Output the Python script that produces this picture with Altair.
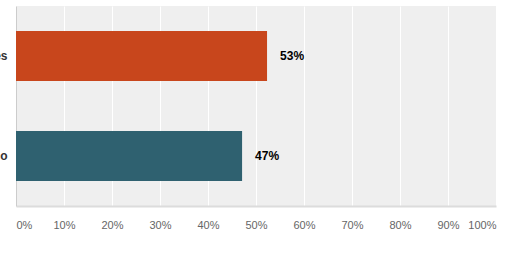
import altair as alt
import pandas as pd

categories = ["Yes", "No"]
pct_values = [52.3, 47.1]
pct_labels = ["53%", "47%"]
bar_colors = ["#C8461C", "#2F6170"]

df = pd.DataFrame({"cat": categories, "val": pct_values, "lab": pct_labels})

x_enc = alt.X(
    "val:Q",
    scale=alt.Scale(domain=[0, 100], nice=False, zero=True),
    axis=alt.Axis(
        values=list(range(0, 101, 10)),
        labelExpr="datum.value + '%'",
        title=None,
        grid=True,
        gridColor="#ffffff",
        gridWidth=1,
        ticks=False,
        domain=True,
        domainColor="#dcdcdc",
        domainWidth=2,
        labelColor="#666666",
        labelFontSize=11,
        labelFont="Liberation Sans",
        labelPadding=13,
        labelFlush=True,
    ),
)
y_enc = alt.Y(
    "cat:N",
    sort=categories,
    scale=alt.Scale(paddingInner=0.5, paddingOuter=0.25),
    axis=alt.Axis(
        title=None,
        ticks=False,
        grid=False,
        domain=True,
        domainColor="#cccccc",
        domainWidth=1,
        labelColor="#333333",
        labelFontSize=12,
        labelFontWeight="bold",
        labelFont="Liberation Sans",
        labelPadding=9,
    ),
)

bars = alt.Chart(df).mark_bar().encode(
    x=x_enc,
    y=y_enc,
    color=alt.Color("cat:N", scale=alt.Scale(domain=categories, range=bar_colors), legend=None),
)

text = alt.Chart(df).mark_text(
    align="left", baseline="middle", dx=13, fontSize=12, fontWeight="bold",
    font="Liberation Sans", color="#000000"
).encode(
    x="val:Q",
    y=alt.Y("cat:N", sort=categories),
    text="lab:N",
)

chart = (bars + text).properties(
    width=480,
    height=200,
    autosize=alt.AutoSizeParams(type="none"),
    padding={"left": 16, "top": 6, "right": 14, "bottom": 47},
    background="#ffffff",
).configure_view(fill="#efefef", stroke=None)

chart.save("out.html", embed_options={"renderer": "svg", "actions": False})
